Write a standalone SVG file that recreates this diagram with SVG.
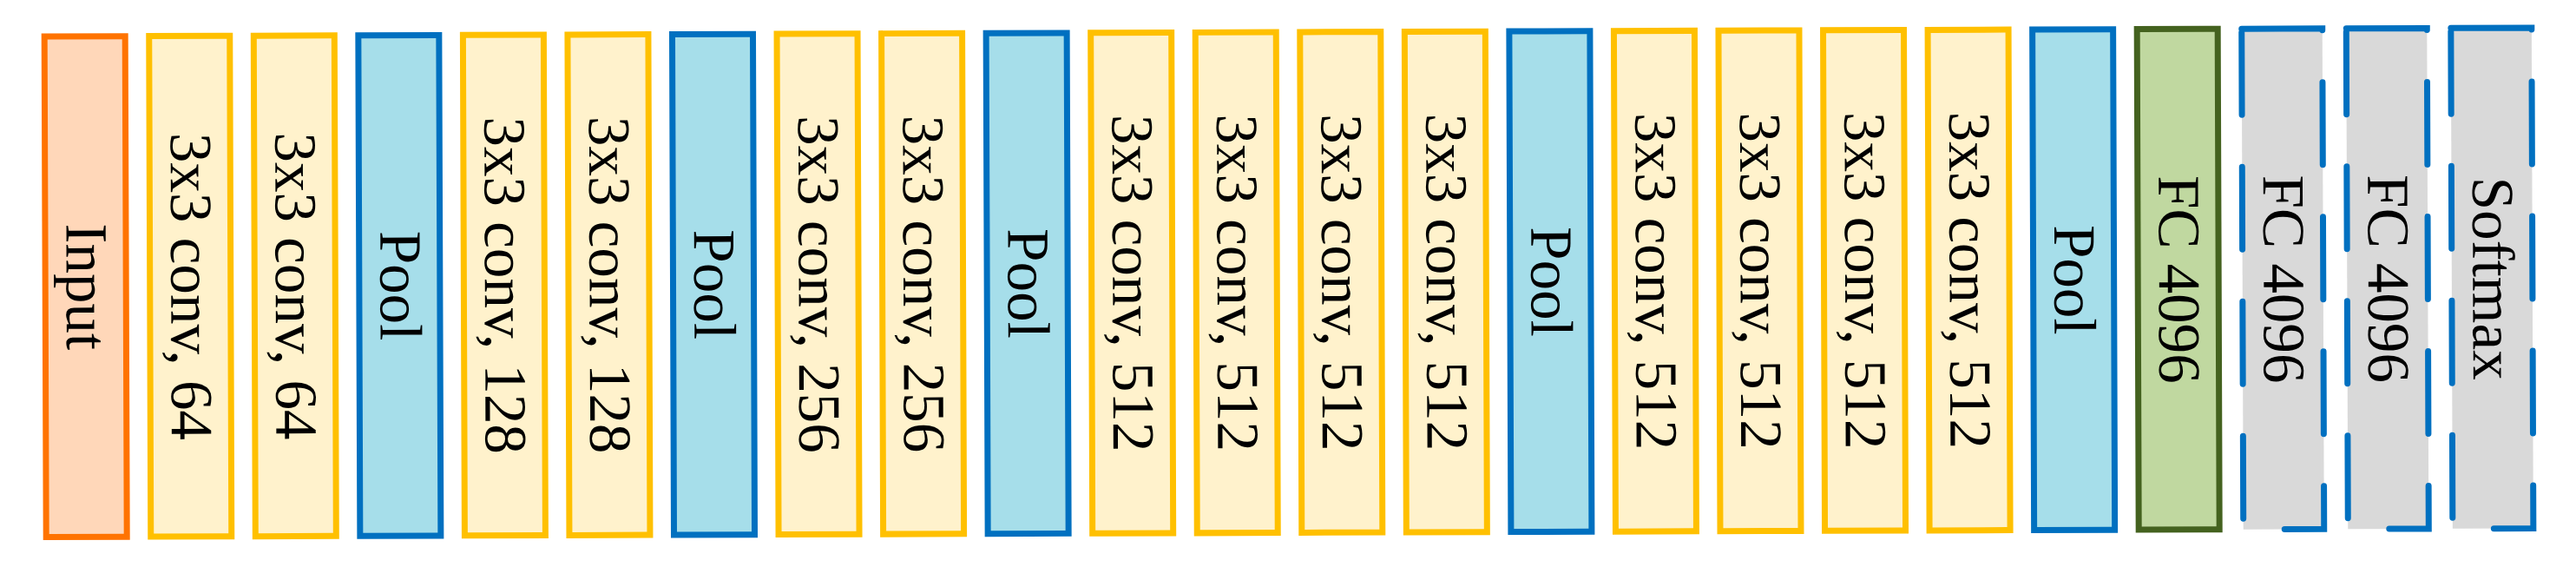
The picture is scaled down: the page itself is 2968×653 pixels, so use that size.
<svg xmlns="http://www.w3.org/2000/svg" width="2968" height="653" viewBox="0 0 2968 653">
<style>
rect{stroke-width:7}
.input rect{fill:#FFD7B9;stroke:#FF7300}
.conv rect{fill:#FFF2CC;stroke:#FFC000}
.pool rect{fill:#A6DEEA;stroke:#0070C0}
.fc rect{fill:#C0D8A0;stroke:#44621F}
.fcd rect{fill:#D9D9D9;stroke:#0070C0;stroke-dasharray:95 60;stroke-linecap:round}
text{font-family:"Liberation Serif","Times New Roman",serif;font-size:69px;fill:#000;text-anchor:middle}
</style>
<rect width="2968" height="653" fill="#FFFFFF" style="stroke:none"/>
<g id="connectors"/>
<g transform="rotate(-0.2 1484 326.5)">
<g id="n0" class="input"><rect x="52.2" y="37" width="93" height="576.5"/><text transform="translate(76.7 325.5) rotate(90)">Input</text></g>
<g id="n1" class="conv"><rect x="172.75" y="37" width="93" height="576.5"/><text transform="translate(197.25 325.5) rotate(90)">3x3 conv, 64</text></g>
<g id="n2" class="conv"><rect x="293.3" y="37" width="93" height="576.5"/><text transform="translate(317.8 325.5) rotate(90)">3x3 conv, 64</text></g>
<g id="n3" class="pool"><rect x="413.85" y="37" width="93" height="576.5"/><text transform="translate(438.35 325.5) rotate(90)">Pool</text></g>
<g id="n4" class="conv"><rect x="534.4" y="37" width="93" height="576.5"/><text transform="translate(558.9 325.5) rotate(90)">3x3 conv, 128</text></g>
<g id="n5" class="conv"><rect x="654.95" y="37" width="93" height="576.5"/><text transform="translate(679.45 325.5) rotate(90)">3x3 conv, 128</text></g>
<g id="n6" class="pool"><rect x="775.5" y="37" width="93" height="576.5"/><text transform="translate(800 325.5) rotate(90)">Pool</text></g>
<g id="n7" class="conv"><rect x="896.05" y="37" width="93" height="576.5"/><text transform="translate(920.55 325.5) rotate(90)">3x3 conv, 256</text></g>
<g id="n8" class="conv"><rect x="1016.6" y="37" width="93" height="576.5"/><text transform="translate(1041.1 325.5) rotate(90)">3x3 conv, 256</text></g>
<g id="n9" class="pool"><rect x="1137.15" y="37" width="93" height="576.5"/><text transform="translate(1161.65 325.5) rotate(90)">Pool</text></g>
<g id="n10" class="conv"><rect x="1257.7" y="37" width="93" height="576.5"/><text transform="translate(1282.2 325.5) rotate(90)">3x3 conv, 512</text></g>
<g id="n11" class="conv"><rect x="1378.25" y="37" width="93" height="576.5"/><text transform="translate(1402.75 325.5) rotate(90)">3x3 conv, 512</text></g>
<g id="n12" class="conv"><rect x="1498.8" y="37" width="93" height="576.5"/><text transform="translate(1523.3 325.5) rotate(90)">3x3 conv, 512</text></g>
<g id="n13" class="conv"><rect x="1619.35" y="37" width="93" height="576.5"/><text transform="translate(1643.85 325.5) rotate(90)">3x3 conv, 512</text></g>
<g id="n14" class="pool"><rect x="1739.9" y="37" width="93" height="576.5"/><text transform="translate(1764.4 325.5) rotate(90)">Pool</text></g>
<g id="n15" class="conv"><rect x="1860.45" y="37" width="93" height="576.5"/><text transform="translate(1884.95 325.5) rotate(90)">3x3 conv, 512</text></g>
<g id="n16" class="conv"><rect x="1981" y="37" width="93" height="576.5"/><text transform="translate(2005.5 325.5) rotate(90)">3x3 conv, 512</text></g>
<g id="n17" class="conv"><rect x="2101.55" y="37" width="93" height="576.5"/><text transform="translate(2126.05 325.5) rotate(90)">3x3 conv, 512</text></g>
<g id="n18" class="conv"><rect x="2222.1" y="37" width="93" height="576.5"/><text transform="translate(2246.6 325.5) rotate(90)">3x3 conv, 512</text></g>
<g id="n19" class="pool"><rect x="2342.65" y="37" width="93" height="576.5"/><text transform="translate(2367.15 325.5) rotate(90)">Pool</text></g>
<g id="n20" class="fc"><rect x="2463.2" y="37" width="93" height="576.5"/><text transform="translate(2487.7 325.5) rotate(90)">FC 4096</text></g>
<g id="n21" class="fcd"><rect x="2583.75" y="37" width="93" height="576.5"/><text transform="translate(2608.25 325.5) rotate(90)">FC 4096</text></g>
<g id="n22" class="fcd"><rect x="2704.3" y="37" width="93" height="576.5"/><text transform="translate(2728.8 325.5) rotate(90)">FC 4096</text></g>
<g id="n23" class="fcd"><rect x="2824.85" y="37" width="93" height="576.5"/><text transform="translate(2849.35 325.5) rotate(90)">Softmax</text></g>
</g>
</svg>
